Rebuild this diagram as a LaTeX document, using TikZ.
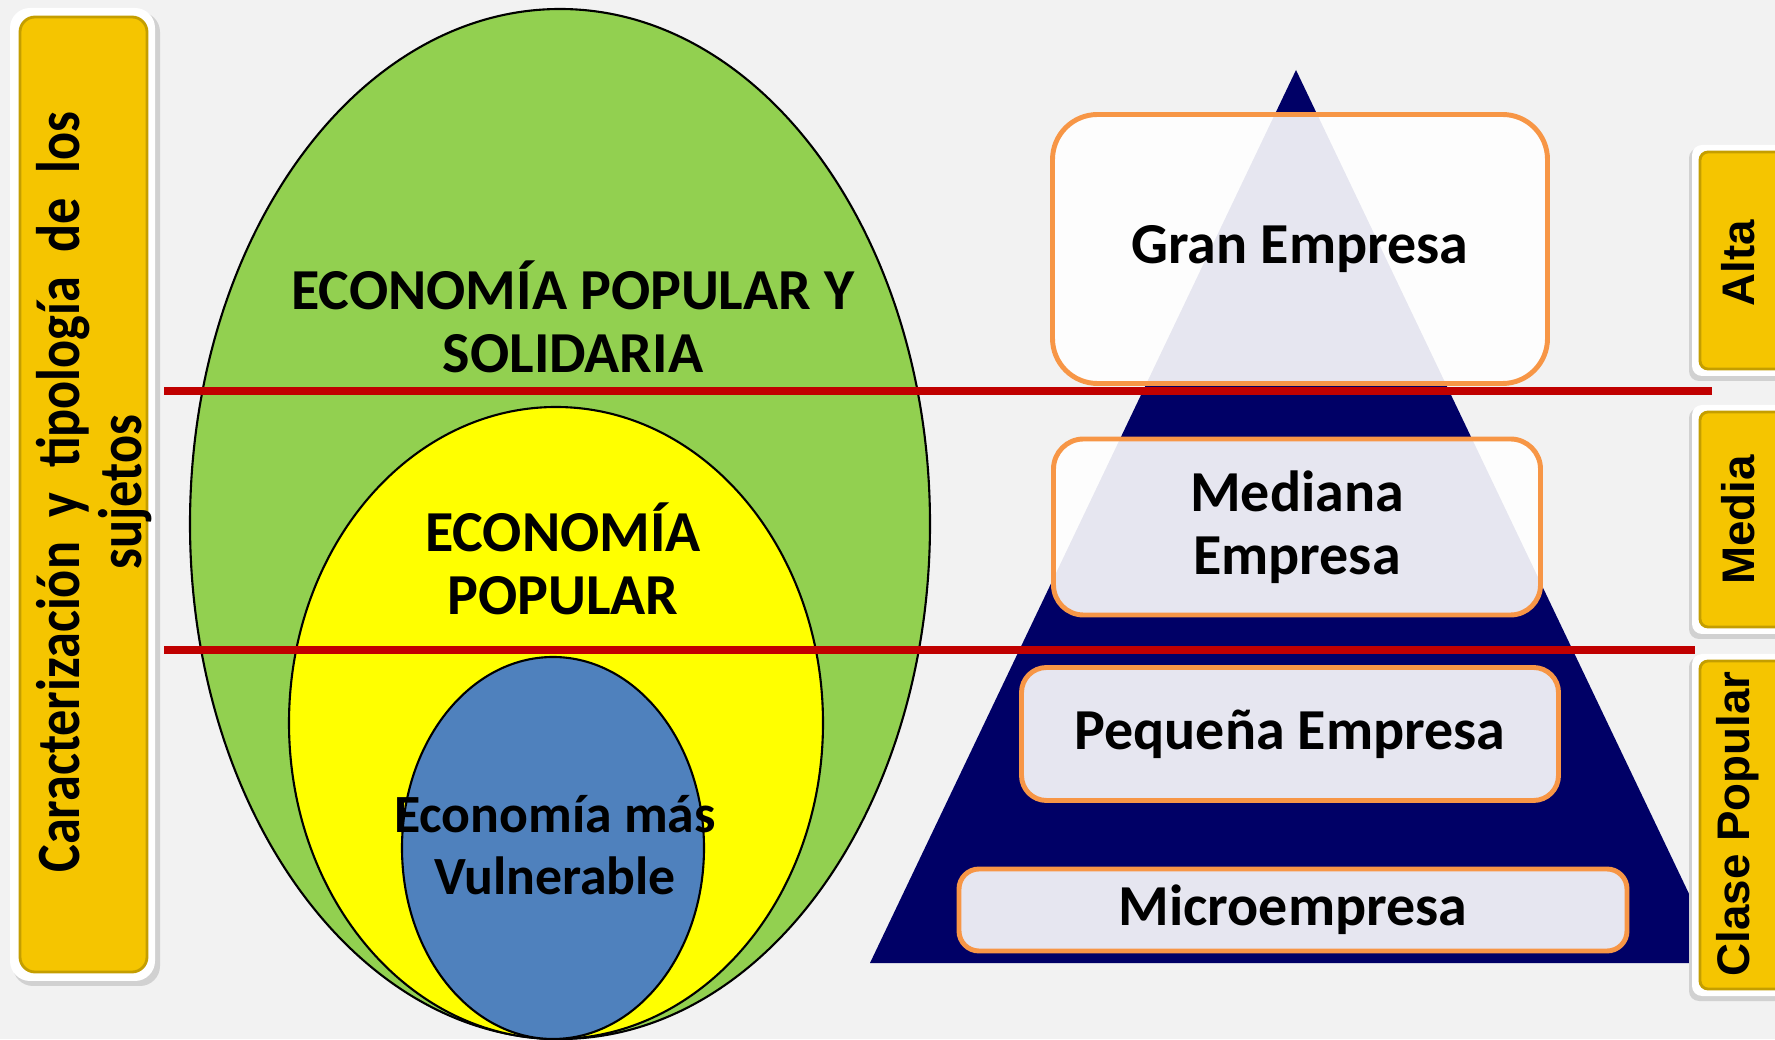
\documentclass[tikz,border=0pt]{standalone}
\usepackage{fontspec}
\setmainfont{Carlito}
\newfontfamily\arialfont{Liberation Sans}
\newfontfamily\estrecha[FakeStretch=0.85]{Carlito}
\newcommand\espacioancho{\spaceskip=7pt\relax}

\definecolor{verde}{HTML}{92D050}
\definecolor{amarillo}{HTML}{FFFF00}
\definecolor{azul}{HTML}{4F81BD}
\definecolor{marino}{HTML}{000066}
\definecolor{naranja}{HTML}{F79646}
\definecolor{rojo}{HTML}{C00000}
\definecolor{oro}{HTML}{F5C500}
\definecolor{fondo}{HTML}{F2F2F2}

\begin{document}
\begin{tikzpicture}[
    texto/.style={font=\fontsize{16.5}{17.8}\selectfont\bfseries, align=center},
    caja/.style={texto, draw=naranja, line width=1.4pt, fill=white, fill opacity=0.9, text opacity=1, inner sep=0pt, rounded corners=#1},
    caja/.default=0.3cm,
    rotulo/.style={rotate=90, font=\arialfont\bfseries\fontsize{13}{14}\selectfont}
  ]
    % Fondo
    \useasboundingbox (0,0) rectangle (17.75,10.39);
    \fill[fondo] (0,0) rectangle (17.75,10.39);

    % Barra lateral izquierda
    \fill[black!18, rounded corners=0.2cm] (0.13,0.53) rectangle (1.60,10.27);
    \fill[white, rounded corners=0.2cm] (0.10,0.58) rectangle (1.55,10.31);
    \fill[oro, draw=oro!80!black, line width=0.8pt, rounded corners=0.15cm] (0.20,0.67) rectangle (1.47,10.22);
    \node[rotate=90, align=center, font=\estrecha\fontsize{17.5}{17.6}\selectfont\bfseries\espacioancho] (titulo) at (0.94,5.47) {Caracterización y tipología de los\\sujetos};

    % Elipses de la economía
    \draw[fill=verde, line width=0.6pt] (5.60,5.15) ellipse [x radius=3.70, y radius=5.15];
    \draw[fill=amarillo, line width=0.6pt] (5.56,3.16) ellipse [x radius=2.67, y radius=3.16];
    \draw[fill=azul, line width=0.6pt] (5.53,1.91) ellipse [x radius=1.51, y radius=1.91];

    \node[texto] (eps) at (5.73,7.22) {ECONOMÍA POPULAR Y\\SOLIDARIA};
    \node[texto] (ep) at (5.63,4.80) {ECONOMÍA\\POPULAR};
    \node[texto, font=\fontsize{15.3}{17.8}\selectfont\bfseries] (emv) at (5.55,1.94) {Economía más\\Vulnerable};

    % Pirámide
    \fill[marino] (12.96,9.69) -- (8.70,0.76) -- (17.22,0.76) -- cycle;

    % Niveles de empresa
    \node[caja=0.45cm, minimum width=4.95cm, minimum height=2.69cm] (gran) at (13.00,7.90) {Gran Empresa};
    \node[caja=0.3cm, minimum width=4.87cm, minimum height=1.76cm] (mediana) at (12.97,5.12) {Mediana\\Empresa};
    \node[caja=0.25cm, minimum width=5.37cm, minimum height=1.33cm] (pequena) at (12.90,3.05) {Pequeña Empresa};
    \node[caja=0.2cm, minimum width=6.68cm, minimum height=0.82cm] (micro) at (12.93,1.29) {Microempresa};

    % Barras de clase a la derecha
    \foreach \arriba/\abajo in {8.94/6.63, 6.34/4.05, 3.85/0.43} {
        \fill[black!18, rounded corners=0.1cm] (16.89,\abajo-0.05) rectangle (17.90,\arriba-0.03);
        \fill[white, rounded corners=0.1cm] (16.92,\abajo) rectangle (17.90,\arriba);
        \fill[oro, draw=oro!80!black, line width=0.8pt, rounded corners=0.08cm] (17.00,\abajo+0.07) rectangle (17.90,\arriba-0.07);
    }
    \node[rotulo] (alta) at (17.38,7.76) {Alta};
    \node[rotulo] (media) at (17.38,5.19) {Media};
    \node[rotulo] (popular) at (17.38,2.15) {Clase Popular};

    % Líneas divisorias
    \draw[rojo, line width=2.2pt] (1.64,6.48) -- (17.12,6.48);
    \draw[rojo, line width=2.2pt] (1.64,3.89) -- (16.95,3.89);

\end{tikzpicture}
\end{document}
